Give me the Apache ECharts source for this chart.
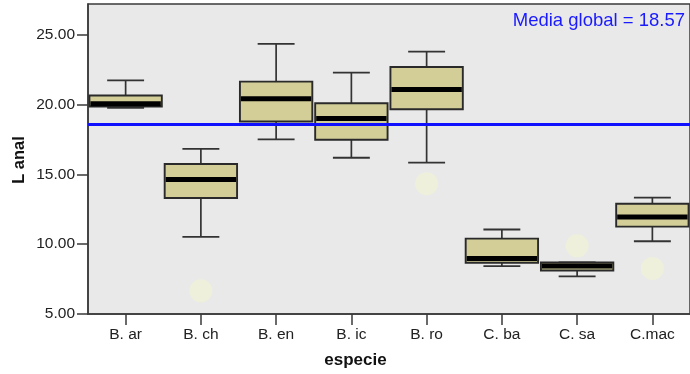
<!DOCTYPE html>
<html>
<head>
<meta charset="utf-8">
<script src="https://cdn.jsdelivr.net/npm/echarts@6/dist/echarts.min.js"></script>
<style>html,body{margin:0;padding:0;background:#fff;}#c{width:690px;height:374px;}</style>
</head>
<body>
<div id="c"></div>
<script>
const categories = ['B. ar', 'B. ch', 'B. en', 'B. ic', 'B. ro', 'C. ba', 'C. sa', 'C.mac'];
const whiskerLow = [19.77, 10.52, 17.50, 16.19, 15.84, 8.43, 7.69, 10.21];
const quartile1  = [19.86, 13.31, 18.79, 17.48, 19.66, 8.67, 8.12, 11.26];
const medians    = [20.06, 14.64, 20.41, 19.00, 21.07, 8.98, 8.43, 11.95];
const quartile3  = [20.65, 15.74, 21.64, 20.09, 22.69, 10.40, 8.69, 12.90];
const whiskerHigh= [21.73, 16.83, 24.34, 22.29, 23.79, 11.05, 8.69, 13.33];
const outlierCats = ['B. ch', 'B. ro', 'C. sa', 'C.mac'];
const outlierVals = [6.66, 14.33, 9.88, 8.26];
const globalMean = 18.57;
const yTicks = [5, 10, 15, 20, 25];

const boxData = categories.map((c, i) => [i, whiskerLow[i], quartile1[i], medians[i], quartile3[i], whiskerHigh[i]]);
const outlierData = outlierCats.map((c, i) => [categories.indexOf(c), outlierVals[i]]);

const chart = echarts.init(document.getElementById('c'), null, {renderer: 'canvas'});
const FONT = '"Liberation Sans", Arial, sans-serif';
const LINE = '#333333';

function renderBox(params, api) {
  const x = api.value(0);
  const pLo = api.coord([x, api.value(1)]);
  const pQ1 = api.coord([x, api.value(2)]);
  const pMd = api.coord([x, api.value(3)]);
  const pQ3 = api.coord([x, api.value(4)]);
  const pHi = api.coord([x, api.value(5)]);
  const step = api.size([1, 0])[0];
  const bw = step * 0.962;
  const cw = bw * 0.51;
  const cx = pMd[0];
  const children = [];
  children.push({type: 'line', shape: {x1: cx, y1: pQ3[1], x2: cx, y2: pHi[1]}, style: {stroke: LINE, lineWidth: 1.7}});
  children.push({type: 'line', shape: {x1: cx, y1: pQ1[1], x2: cx, y2: pLo[1]}, style: {stroke: LINE, lineWidth: 1.7}});
  children.push({type: 'line', shape: {x1: cx - cw / 2, y1: pHi[1], x2: cx + cw / 2, y2: pHi[1]}, style: {stroke: LINE, lineWidth: 1.8}});
  children.push({type: 'line', shape: {x1: cx - cw / 2, y1: pLo[1], x2: cx + cw / 2, y2: pLo[1]}, style: {stroke: LINE, lineWidth: 1.8}});
  children.push({type: 'rect', shape: {x: cx - bw / 2, y: pQ3[1], width: bw, height: pQ1[1] - pQ3[1]},
    style: {fill: '#d3ce98', stroke: '#2a2a2a', lineWidth: 1.9}});
  children.push({type: 'rect', shape: {x: cx - bw / 2 + 1, y: pMd[1] - 2.5, width: bw - 2, height: 5}, style: {fill: '#000'}});
  return {type: 'group', children};
}

chart.setOption({
  animation: false,
  grid: {left: 88, top: 4, width: 607, height: 310, show: true, backgroundColor: '#e9e9e9', borderColor: '#3a3a3a', borderWidth: 1.5},
  xAxis: {
    type: 'category', data: categories,
    axisLine: {show: true, lineStyle: {color: '#3a3a3a', width: 1.5}},
    axisTick: {show: true, alignWithLabel: true, length: 11, lineStyle: {color: '#3a3a3a', width: 1.5}},
    axisLabel: {color: '#222', fontFamily: FONT, fontSize: 15.5, margin: 13},
    splitLine: {show: false}
  },
  yAxis: {
    type: 'value', min: 5, max: 27.2, interval: 5,
    axisLine: {show: true, lineStyle: {color: '#3a3a3a', width: 1.5}},
    axisTick: {show: true, length: 11, lineStyle: {color: '#3a3a3a', width: 1.5}, customValues: yTicks},
    axisLabel: {color: '#222', fontFamily: FONT, fontSize: 15.5, margin: 13, customValues: yTicks, formatter: v => v.toFixed(2)},
    splitLine: {show: false}
  },
  series: [
    {
      type: 'custom', data: boxData, renderItem: renderBox, z: 2,
      encode: {x: 0, y: [1, 2, 3, 4, 5]},
      markLine: {
        silent: true, symbol: 'none', label: {show: false},
        lineStyle: {color: '#1010ff', width: 3, type: 'solid'},
        data: [{yAxis: globalMean}]
      }
    },
    {
      type: 'scatter', data: outlierData, symbol: 'circle', symbolSize: 23, z: 1,
      itemStyle: {color: '#eef0dc', opacity: 1}
    }
  ],
  graphic: [
    {type: 'text', right: 5, top: 11, style: {text: 'Media global = ' + globalMean.toFixed(2), fill: '#1a1aff', font: '18.5px ' + FONT}},
    {type: 'text', x: 355.5, y: 360, style: {text: 'especie', fill: '#111', font: 'bold 17px ' + FONT, align: 'center', verticalAlign: 'middle'}},
    {type: 'text', x: 19, y: 160, rotation: Math.PI / 2, style: {text: 'L anal', fill: '#111', font: 'bold 16.5px ' + FONT, align: 'center', verticalAlign: 'middle'}}
  ]
});
</script>
</body>
</html>
